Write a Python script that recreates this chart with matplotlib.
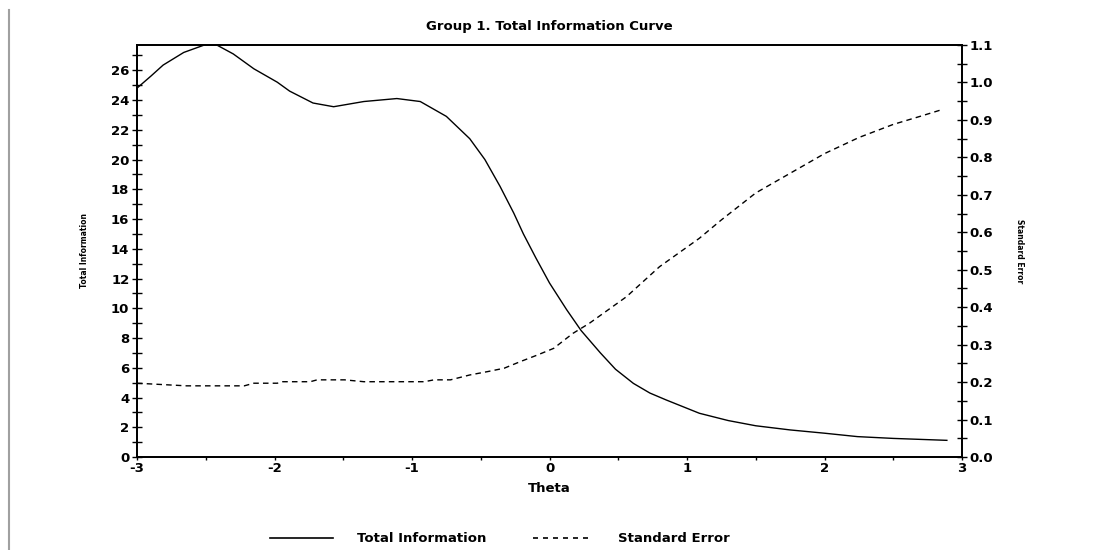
import numpy as np
import matplotlib
matplotlib.use('Agg')
import matplotlib.pyplot as plt
from matplotlib.lines import Line2D
from matplotlib.ticker import MultipleLocator

# values
theta_ti = [-3.0, -2.9, -2.81, -2.66, -2.51, -2.42, -2.30, -2.15, -1.98, -1.89, -1.72, -1.57,
            -1.35, -1.11, -0.94, -0.75, -0.58, -0.47, -0.36, -0.26, -0.19, -0.1, 0.0, 0.125, 0.23,
            0.37, 0.48, 0.61, 0.73, 0.85, 1.09, 1.3, 1.5, 1.75, 2.0, 2.24, 2.5, 2.89]
total_info = [24.8, 25.6, 26.35, 27.2, 27.7, 27.7, 27.1, 26.1, 25.2, 24.6, 23.8, 23.55,
              23.9, 24.1, 23.9, 22.9, 21.4, 20.0, 18.2, 16.4, 15.0, 13.4, 11.7, 9.9, 8.5,
              7.0, 5.9, 4.95, 4.3, 3.83, 2.94, 2.45, 2.1, 1.82, 1.6, 1.37, 1.25, 1.12]

theta_se = [-3.0, -2.64, -2.22, -2.15, -1.98, -1.94, -1.74, -1.69, -1.49, -1.35, -0.91,
            -0.84, -0.72, -0.58, -0.45, -0.33, -0.21, -0.09, 0.03, 0.17, 0.29, 0.56,
            0.80, 1.09, 1.25, 1.5, 2.0, 2.25, 2.5, 2.7, 2.85]
std_err = [0.197, 0.190, 0.190, 0.197, 0.197, 0.201, 0.201, 0.206, 0.206, 0.201, 0.201,
           0.206, 0.206, 0.219, 0.228, 0.237, 0.255, 0.272, 0.290, 0.33, 0.357, 0.428,
           0.508, 0.584, 0.633, 0.705, 0.81, 0.853, 0.888, 0.91, 0.927]

x_ticks = [-3, -2, -1, 0, 1, 2, 3]

plt.rcParams['font.family'] = ['DejaVu Sans']
FS = 9.5

fig = plt.figure(figsize=(11.1, 5.5), dpi=100)
ax = fig.add_axes([137/1110, 93/550, 825/1110, 412/550])
ax2 = ax.twinx()

ax.plot(theta_ti, total_info, color='black', lw=1.0)
ax2.plot(theta_se, std_err, color='black', lw=1.0, ls=(0, (4, 3)))

ax.set_xlim(-3, 3)
ax.set_ylim(0, 27.7)
ax2.set_ylim(0, 1.1)

ax.set_xticks(x_ticks)
ax.set_xticklabels([str(v) for v in x_ticks])
ax.xaxis.set_minor_locator(MultipleLocator(0.5))
ax.yaxis.set_major_locator(MultipleLocator(2))
ax.yaxis.set_minor_locator(MultipleLocator(1))
ax2.yaxis.set_major_locator(MultipleLocator(0.1))
ax2.yaxis.set_minor_locator(MultipleLocator(0.05))
ax2.yaxis.set_major_formatter(lambda v, p: '%.1f' % v)

ax.tick_params(axis='x', which='both', direction='out', length=2.5, width=1, labelsize=FS, pad=1)
ax.tick_params(axis='y', which='both', direction='inout', length=7, width=1, labelsize=FS, pad=2)
ax2.tick_params(axis='y', which='both', direction='inout', length=7, width=1, labelsize=FS, pad=2)
for lab in ax.get_xticklabels() + ax.get_yticklabels() + ax2.get_yticklabels():
    lab.set_fontweight('bold')

for a in (ax, ax2):
    for s in a.spines.values():
        s.set_linewidth(1.3)

ax.set_title('Group 1. Total Information Curve', fontsize=FS, fontweight='bold', pad=11)
ax.set_xlabel('Theta', fontsize=FS, fontweight='bold', labelpad=5)
ax.set_ylabel('Total Information', fontsize=5.5, fontweight='bold', labelpad=16)
ax2.set_ylabel('Standard Error', fontsize=5.5, fontweight='bold', rotation=-90, labelpad=22)

# legend below the plot
fig.add_artist(Line2D([270/1110, 333/1110], [12/550, 12/550], color='black', lw=1.2))
fig.text(357/1110, 12/550, 'Total Information', fontsize=FS, fontweight='bold', va='center')
fig.add_artist(Line2D([533/1110, 593/1110], [12/550, 12/550], color='black', lw=1.2, ls=(0, (3, 3))))
fig.text(618/1110, 12/550, 'Standard Error', fontsize=FS, fontweight='bold', va='center')

# grey frame edge on the left
fig.add_artist(Line2D([9/1110, 9/1110], [0, 540/550], color='#a0a0a0', lw=1.5))

fig.savefig('out.png', dpi=100)
